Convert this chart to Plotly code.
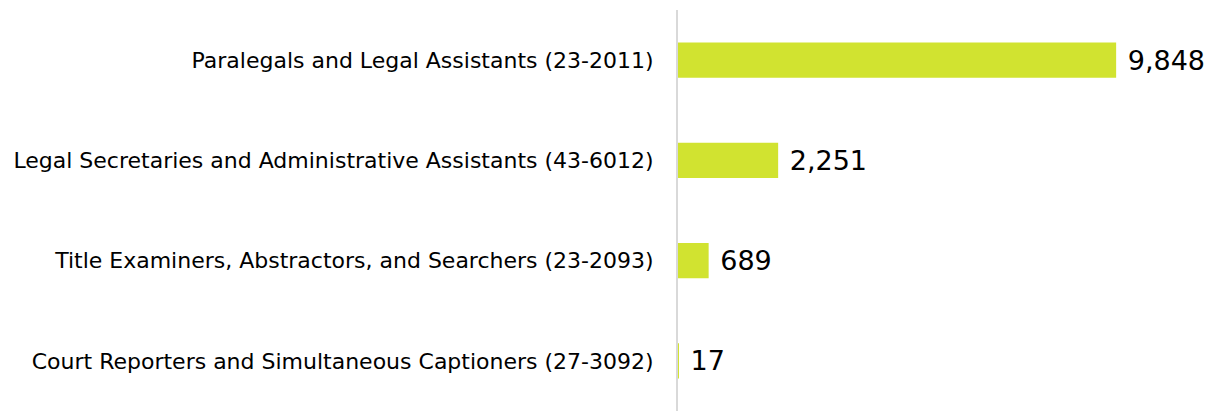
import plotly.graph_objects as go

categories = [
    "Paralegals and Legal Assistants (23-2011)",
    "Legal Secretaries and Administrative Assistants (43-6012)",
    "Title Examiners, Abstractors, and Searchers (23-2093)",
    "Court Reporters and Simultaneous Captioners (27-3092)",
]
values = [9848, 2251, 689, 17]

bar_color = "#D1E330"
font_family = "DejaVu Sans"

fig = go.Figure(
    go.Bar(
        x=values,
        y=categories,
        orientation="h",
        marker=dict(color=bar_color, line=dict(width=0)),
        text=[f"{v:,}" for v in values],
        texttemplate=" %{text}",
        textposition="outside",
        cliponaxis=False,
        textfont=dict(size=27, color="#000000", family=font_family),
        hoverinfo="skip",
    )
)

fig.update_layout(
    width=1207,
    height=403,
    margin=dict(l=670, r=0, t=2, b=0, pad=0),
    paper_bgcolor="white",
    plot_bgcolor="white",
    bargap=0.65,
    showlegend=False,
    font=dict(family=font_family, color="#000000"),
    xaxis=dict(
        range=[0, 12070],
        showgrid=False,
        zeroline=False,
        showticklabels=False,
        showline=False,
        fixedrange=True,
        automargin=False,
    ),
    yaxis=dict(
        autorange="reversed",
        showgrid=False,
        zeroline=False,
        showline=True,
        linecolor="#D9D9D9",
        linewidth=2,
        ticks="",
        ticklabelstandoff=18,
        tickfont=dict(size=22, family=font_family, color="#000000"),
        fixedrange=True,
        automargin=False,
    ),
)

fig.write_html("out.html")
